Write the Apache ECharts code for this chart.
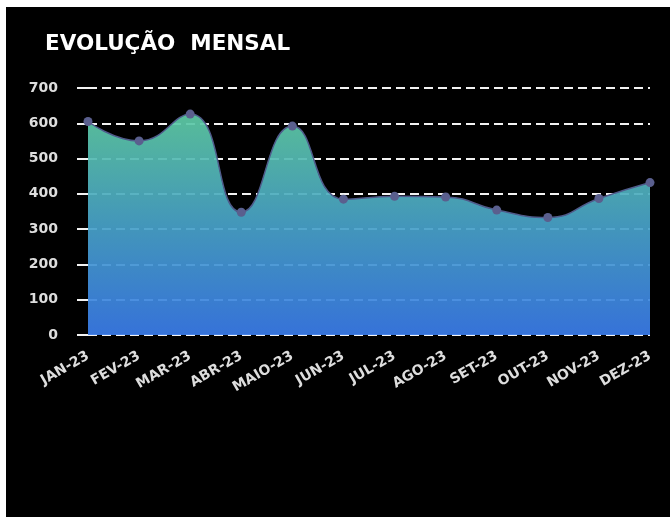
<!DOCTYPE html>
<html>
<head>
<meta charset="utf-8">
<script src="https://cdn.jsdelivr.net/npm/echarts@6/dist/echarts.min.js"></script>
<style>
  html, body { margin: 0; padding: 0; background: #ffffff; }
  #chart {
    position: absolute;
    left: 6px;
    top: 7px;
    width: 664px;
    height: 510px;
    background: #000000;
  }
</style>
</head>
<body>
<div id="chart"></div>
<script>
// dados do grafico
const meses = ["JAN-23", "FEV-23", "MAR-23", "ABR-23", "MAIO-23", "JUN-23",
  "JUL-23", "AGO-23", "SET-23", "OUT-23", "NOV-23", "DEZ-23"];
const valores = [605, 550, 626, 348, 592, 385, 393, 391, 354, 333, 387, 432];
const yTicks = [0, 100, 200, 300, 400, 500, 600, 700];

const chart = echarts.init(document.getElementById("chart"));

const fonte = "'DejaVu Sans', sans-serif";

const option = {
  backgroundColor: "#000000",

  title: {
    text: "EVOLUÇÃO  MENSAL",
    left: 34,
    top: 21,
    textStyle: {
      color: "#ffffff",
      fontFamily: fonte,
      fontWeight: "bold",
      fontSize: 21.5,
    },
  },

  grid: {
    left: 82,
    right: 20,
    top: 81,
    bottom: 182,
  },

  // eixo x
  xAxis: {
    type: "category",
    data: meses,
    boundaryGap: false,
    axisLine: { show: false },
    axisTick: { show: false },
    axisLabel: {
      interval: 0,
      rotate: 30,
      margin: 20,
      color: "#dddddd",
      fontFamily: fonte,
      fontWeight: "bold",
      fontSize: 14,
    },
  },

  // eixo y
  yAxis: {
    type: "value",
    min: yTicks[0],
    max: yTicks[yTicks.length - 1],
    interval: 100,
    axisLine: { show: false },
    axisTick: {
      show: true,
      length: 11,
      lineStyle: { color: "#f2f2f2", width: 2 },
    },
    axisLabel: {
      margin: 30,
      color: "#dddddd",
      fontFamily: fonte,
      fontWeight: "bold",
      fontSize: 14,
    },
    splitLine: {
      show: true,
      lineStyle: {
        color: "#f2f2f2",
        width: 2,
        type: [9, 5],
      },
    },
  },

  series: [
    {
      type: "line",
      data: valores,
      smooth: true,
      symbol: "circle",
      symbolSize: 9,
      itemStyle: { color: "#5a5f8e" },
      lineStyle: { color: "#4f5a8a", width: 1.5 },
      areaStyle: {
        opacity: 0.93,
        color: new echarts.graphic.LinearGradient(0, 0, 0, 1, [
          { offset: 0, color: "#5ecba4" },
          { offset: 0.5, color: "#48a2c8" },
          { offset: 1, color: "#3a7be9" },
        ]),
      },
    },
  ],
};

chart.setOption(option);
</script>
</body>
</html>
